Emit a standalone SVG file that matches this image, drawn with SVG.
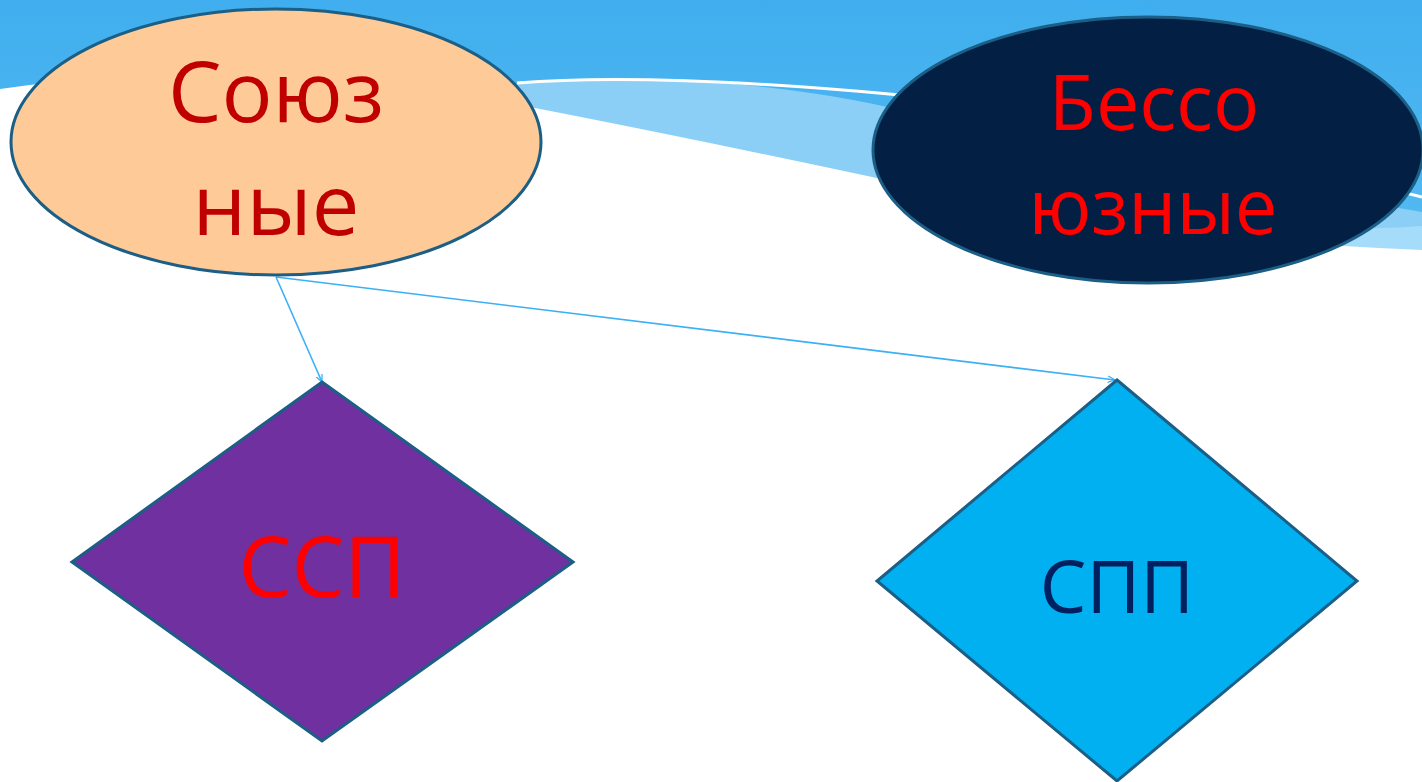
<svg xmlns="http://www.w3.org/2000/svg" width="1422" height="782" viewBox="0 0 1422 782">
<defs>
<linearGradient id="sky" x1="0" y1="0" x2="0" y2="1">
<stop offset="0" stop-color="#40AEEE"/>
<stop offset="1" stop-color="#58BDF3"/>
</linearGradient>
<marker id="arr" viewBox="0 0 10 10" refX="9" refY="5" markerWidth="8" markerHeight="8" orient="auto" markerUnits="userSpaceOnUse">
<path d="M0,1 L9,5 L0,9" fill="none" stroke="#3BB0F5" stroke-width="1.6"/>
</marker>
<style>
.node{stroke:#1B5E86;stroke-width:3}
.conn{fill:none;stroke:#3BB0F5;stroke-width:1.6}
.t{font-family:"Open Sans","Noto Sans","DejaVu Sans",sans-serif;text-anchor:middle}
</style>
</defs>
<g id="background">
<rect x="0" y="0" width="1422" height="300" fill="url(#sky)"/>
<path d="M500,85 Q560,80 663,79 Q800,86 900,110 Q1200,175 1422,212 L1422,300 L480,300 Z" fill="#8BCFF7"/>
<path d="M1100,215 Q1300,235 1422,226 L1422,300 L1100,300 Z" fill="#A5DCFA"/>
<path d="M517,83 Q650,72 900,95 Q1200,140 1422,197" fill="none" stroke="#FFFFFF" stroke-width="3"/>
<path d="M0,89 Q260,50 530,107 Q700,140 900,183 Q1150,240 1422,250 L1422,782 L0,782 Z" fill="#FFFFFF"/>
</g>
<g id="connectors">
<path class="conn" d="M276,277 L322,382" marker-end="url(#arr)"/>
<path class="conn" d="M276,277 L1115,380" marker-end="url(#arr)"/>
<path class="conn" d="M1080,0 Q1120,3 1150,9" marker-end="url(#arr)" stroke="#5CC0F6"/>
<path class="conn" d="M300,0 Q290,4 283,9" marker-end="url(#arr)" stroke="#5CC0F6"/>
</g>
<g id="node-soyuznye">
<ellipse class="node" cx="276" cy="142" rx="265" ry="133" fill="#FECB98"/>
<text class="t" x="276" y="122" font-size="85" fill="#C00000">Союз</text>
<text class="t" x="276" y="235" font-size="85" fill="#C00000">ные</text>
</g>
<g id="node-bessoyuznye">
<ellipse class="node" cx="1148" cy="150" rx="275" ry="133" fill="#031F44"/>
<text class="t" x="1154" y="130" font-size="77" fill="#FF0000">Бессо</text>
<text class="t" x="1153" y="234" font-size="76" fill="#FF0000">юзные</text>
</g>
<g id="node-ssp">
<polygon class="node" points="322,382 573,562 322,741 72,562" fill="#7030A0"/>
<text class="t" x="322" y="597" font-size="84" fill="#FF0000">ССП</text>
</g>
<g id="node-spp">
<polygon class="node" points="1117,380 1357,581 1117,781 877,581" fill="#00B0F0"/>
<text class="t" x="1117" y="613" font-size="74" fill="#002060">СПП</text>
</g>
</svg>
